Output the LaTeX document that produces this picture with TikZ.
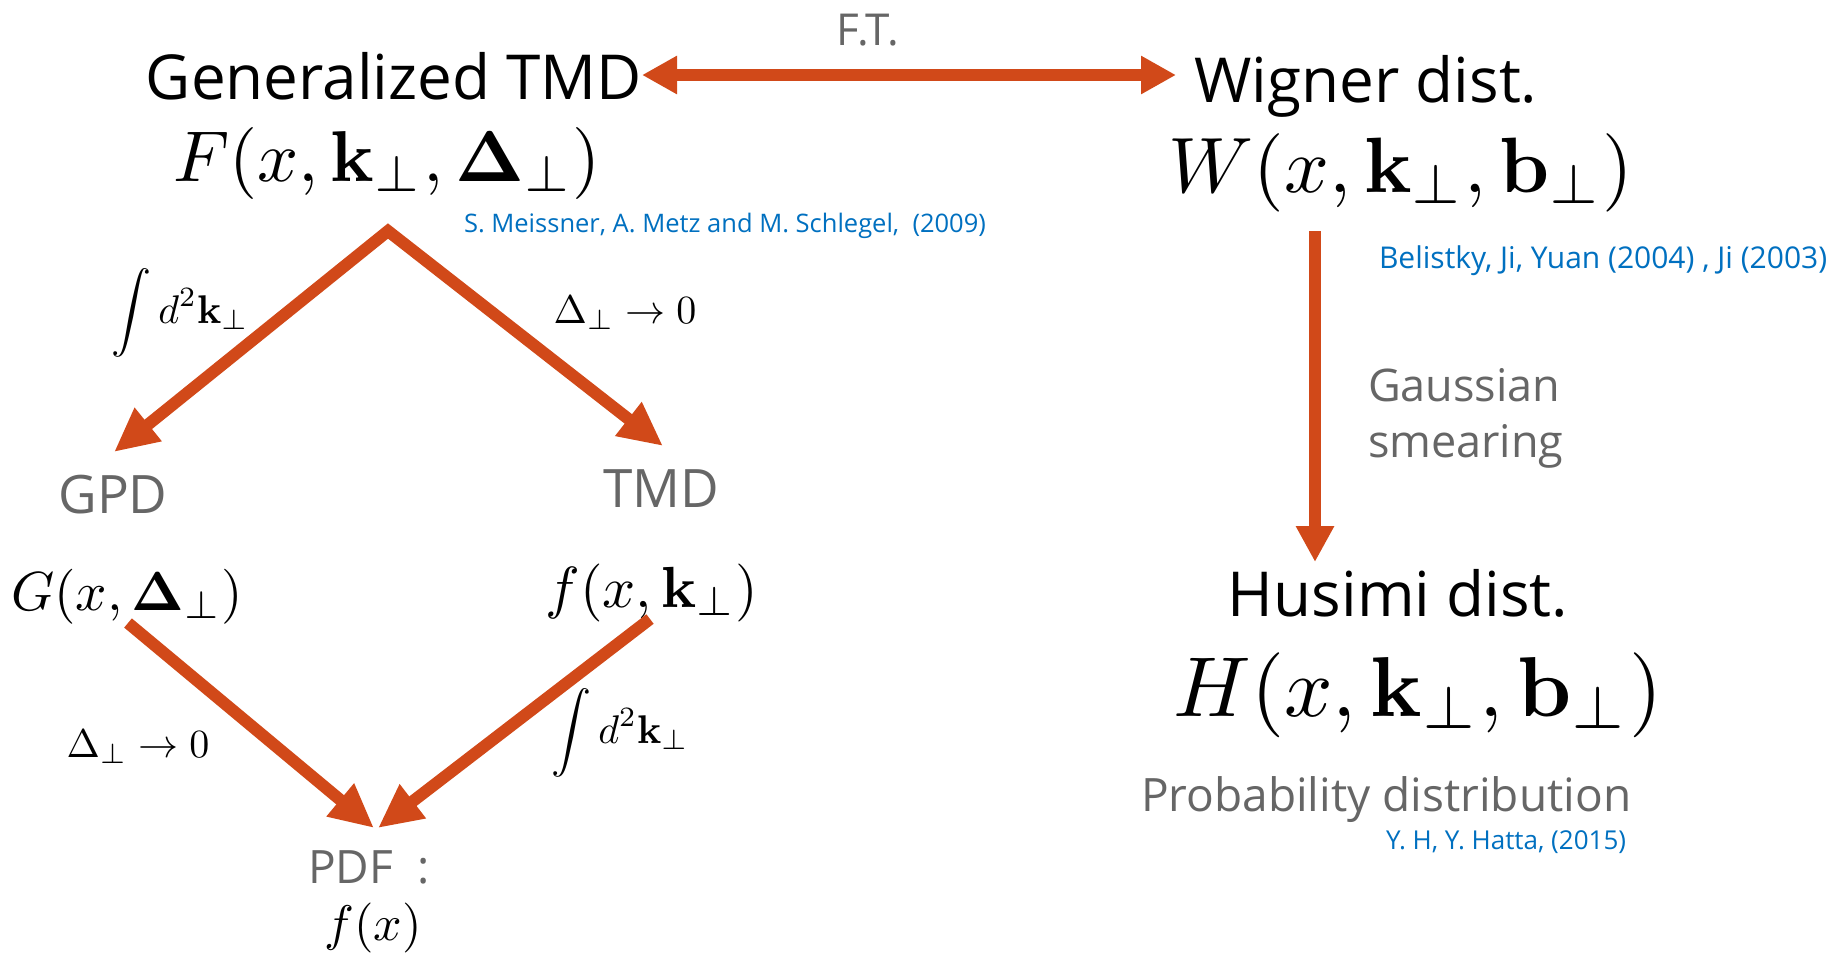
\documentclass[tikz,border=0pt]{standalone}
\usepackage[no-math]{fontspec}
\newfontfamily\uisans{Open Sans}
\usetikzlibrary{arrows.meta}
\definecolor{arrowc}{RGB}{209,73,25}
\definecolor{graytxt}{RGB}{102,102,102}
\definecolor{citeblue}{RGB}{0,112,192}
\tikzset{
  lbl/.style={inner sep=0pt, outer sep=0pt, anchor=base},
  mathlbl/.style={lbl, font=\fontsize{10}{12}\selectfont, scale=#1},
  title/.style={lbl, font=\uisans\fontsize{62}{70}\selectfont, text=black},
  graylbl/.style={lbl, text=graytxt},
  cite/.style={lbl, anchor=base west, text=citeblue, font=\uisans\fontsize{#1}{30}\selectfont},
  fat/.style={draw=arrowc, line width=12pt, line join=miter},
  tip/.style={-{Triangle[length=36pt,width=36pt]}},
}
\begin{document}
\begin{tikzpicture}[x=1pt,y=-1pt]
\fill[white] (0,0) rectangle (1843,954);
\useasboundingbox (0,0) rectangle (1843,954);

% top row
\node[title] (gtmd) at (394,99) {Generalized TMD};
\node[mathlbl=7.2] (Fexpr) at (387,181) {$F(x,\mathbf{k}_\perp,\mathbf{\Delta}_\perp)$};
\node[cite=25.5] (cite1) at (464,232) {S. Meissner, A. Metz and M. Schlegel,\ \ (2009)};
\node[graylbl, font=\uisans\fontsize{44}{50}\selectfont] (ft) at (868,45) {F.T.};
\node[title] (wig) at (1366,102) {Wigner dist.};
\node[mathlbl=7.85] (Wexpr) at (1401,192) {$W(x,\mathbf{k}_\perp,\mathbf{b}_\perp)$};
\node[cite=30] (cite2) at (1379,268) {Belistky, Ji, Yuan (2004) , Ji (2003)};

\coordinate (ftL) at (642,75);
\coordinate (ftR) at (1176,75);
\draw[fat, {Triangle[length=35pt,width=36pt]}-{Triangle[length=35pt,width=36pt]}] (ftL) -- (ftR);

% right column
\coordinate (wdown) at (1315,231);
\coordinate (hup) at (1315,562);
\draw[fat, tip] (wdown) -- (hup);
\node[graylbl, anchor=base west, font=\uisans\fontsize{45}{54}\selectfont] (gauss) at (1368,401) {Gaussian};
\node[graylbl, anchor=base west, font=\uisans\fontsize{45}{54}\selectfont] (smear) at (1368,457) {smearing};
\node[title] (hus) at (1398,616) {Husimi dist.};
\node[mathlbl=8.5] (Hexpr) at (1418,716) {$H(x,\mathbf{k}_\perp,\mathbf{b}_\perp)$};
\node[graylbl, anchor=base west, font=\uisans\fontsize{46}{52}\selectfont] (prob) at (1141,811) {Probability distribution};
\node[cite=26] (cite3) at (1386,849) {Y. H, Y. Hatta, (2015)};

% left diamond
\coordinate (apex) at (388,231);
\coordinate (gpdtip) at (114,452);
\coordinate (tmdtip) at (663,446);
\draw[fat, {Triangle[length=44pt,width=40pt]}-{Triangle[length=44pt,width=40pt]}] (gpdtip) -- (apex) -- (tmdtip);
\node[mathlbl=4.0] (int1) at (180,323) {$\displaystyle\int d^2\mathbf{k}_\perp$};
\node[mathlbl=4.0] (lim1) at (625,323) {$\Delta_\perp\to0$};

\node[graylbl, font=\uisans\fontsize{53}{60}\selectfont] (gpd) at (113,513) {GPD};
\node[graylbl, font=\uisans\fontsize{53}{60}\selectfont] (tmd) at (661,507) {TMD};
\node[mathlbl=5.5] (Gexpr) at (127,610) {$G(x,\mathbf{\Delta}_\perp)$};
\node[mathlbl=5.8] (fexpr) at (652,607) {$f(x,\mathbf{k}_\perp)$};

\coordinate (gstart) at (128,623);
\coordinate (fstart) at (650,619);
\coordinate (pdfL) at (374,828);
\coordinate (pdfR) at (378,828);
\draw[fat, {Triangle[length=44pt,width=40pt]}-, line cap=butt] (pdfL) -- (gstart);
\draw[fat, {Triangle[length=44pt,width=40pt]}-, line cap=butt] (pdfR) -- (fstart);
\node[mathlbl=4.0] (lim2) at (138,757) {$\Delta_\perp\to0$};
\node[mathlbl=4.0] (int2) at (620,743) {$\displaystyle\int d^2\mathbf{k}_\perp$};

\node[graylbl, anchor=base west, font=\uisans\fontsize{46}{52}\selectfont] (pdf) at (308,883) {PDF\hspace{25pt}:};
\node[mathlbl=5.0] (fx) at (373,940) {$f(x)$};
\end{tikzpicture}
\end{document}
